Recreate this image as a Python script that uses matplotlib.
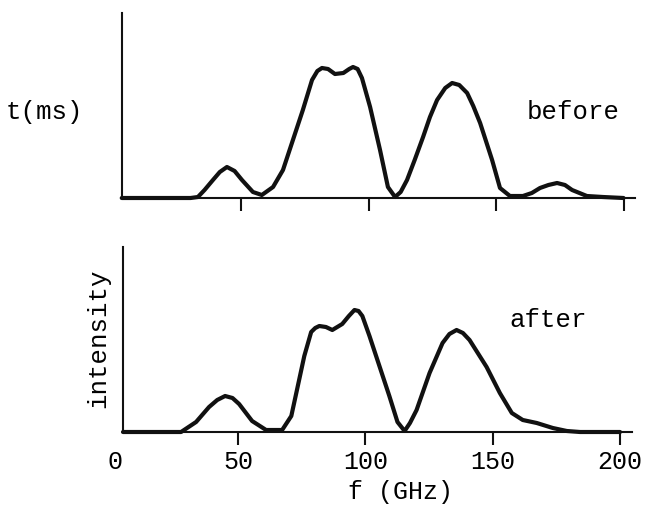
import matplotlib
matplotlib.use("Agg")
import matplotlib.pyplot as plt

# --- data (f in GHz, heights in arbitrary units) ---
before_f = [3, 30, 32.9, 35.5, 38.8, 41.5, 44.3, 47.3, 50.2, 54.5, 58.0, 62.4, 66.3,
            70.2, 74.1, 77.7, 79.8, 81.6, 84.0, 86.7, 90.0, 92.3, 93.8, 95.6, 97.3,
            100.5, 104.4, 107.5, 110.3, 112.5, 115.0, 118.0, 121.3, 124.0, 126.8, 130.0, 132.7,
            135.5, 138.6, 141.0, 143.7, 148.4, 151.5, 155.4, 160.5, 164.0, 167.2, 170.5,
            173.9, 177.0, 179.8, 185.6, 191.9, 200.0]
before_h = [0, 0, 1, 8, 18, 26, 31, 27, 18, 6, 3, 11, 28,
            58, 88, 118, 127, 130, 129, 124, 125, 129, 131, 129, 120,
            91, 48, 11, 1, 6, 18, 38, 61, 81, 98, 110, 115,
            113, 105, 92, 75, 38, 10, 2, 2, 5, 10, 13,
            15, 13, 8, 2, 1, 0]

after_f = [4.8, 27.6, 33.5, 38.6, 41.8, 44.9, 47.8, 50.4, 55.5, 61.0, 67.3, 70.9,
           73.2, 76.0, 78.7, 80.3, 81.9, 84.5, 87.0, 90.9, 93.5, 95.7, 97.3, 98.8,
           101.6, 105.5, 109.4, 112.6, 115.4, 117.5, 120.1, 125.2, 130.3, 133.0, 135.8,
           138.3, 140.9, 147.6, 152.8, 157.5, 161.8, 167.3, 173.6, 179.1, 184.3, 200.0]
after_h = [0, 0, 10, 25, 32, 36, 34, 28, 11, 2, 2, 16,
           43, 76, 100, 104, 106, 105, 102, 108, 116, 122, 121, 116,
           96, 66, 36, 10, 1, 9, 22, 59, 89, 98, 102,
           99, 92, 65, 39, 19, 12, 9, 4, 1, 0, 0]

x_ticks = [50, 100, 150, 200]
x_ticklabels = ["50", "100", "150", "200"]

FONT = "Liberation Mono"
W, H = 651, 515
fig = plt.figure(figsize=(W / 100, H / 100), dpi=100)

def px_axes(x0, x1, ytop, ybot):
    return fig.add_axes([x0 / W, 1 - ybot / H, (x1 - x0) / W, (ybot - ytop) / H])

ax1 = px_axes(122, 635, 13, 198)
ax2 = px_axes(123, 632, 247, 432)

TICK_LEN, TICK_PAD = 9, 4
for ax in (ax1, ax2):
    for s in ("top", "right"):
        ax.spines[s].set_visible(False)
    for s in ("left", "bottom"):
        ax.spines[s].set_linewidth(1.5)
        ax.spines[s].set_color("#111111")
    ax.set_yticks([])
    ax.set_xticks(x_ticks)
    ax.tick_params(axis="x", direction="out", length=TICK_LEN, width=1.5, color="#111111",
                   pad=TICK_PAD, labelsize=18)
    ax.set_ylim(0, 185)

ax1.set_xlim(3.1, 204.5)
ax2.set_xlim(4.8, 204.7)
ax1.set_xticklabels([])
ax2.set_xticklabels(x_ticklabels, fontfamily=FONT)

ax1.plot(before_f, before_h, color="#111111", lw=3, solid_joinstyle="round",
         solid_capstyle="round", clip_on=False)
ax2.plot(after_f, after_h, color="#111111", lw=3, solid_joinstyle="round",
         solid_capstyle="round", clip_on=False)

# "0" label sits left of the axis start, at the same height as the other tick labels
ax2.annotate("0", xy=(1.5, 0), xycoords=("data", "axes fraction"),
             xytext=(0, -(TICK_LEN + TICK_PAD)), textcoords="offset points",
             ha="center", va="top", fontsize=18, fontfamily=FONT, annotation_clip=False)

fig.text(400 / W, 1 - 492 / H, "f (GHz)", ha="center", va="center",
         fontsize=18, fontfamily=FONT)
fig.text(44 / W, 1 - 112 / H, "t(ms)", ha="center", va="center",
         fontsize=18.5, fontfamily=FONT)
fig.text(573 / W, 1 - 112 / H, "before", ha="center", va="center",
         fontsize=18.5, fontfamily=FONT)
fig.text(548 / W, 1 - 320 / H, "after", ha="center", va="center",
         fontsize=18.5, fontfamily=FONT)
fig.text(98 / W, 1 - 338 / H, "intensity", ha="center", va="center",
         rotation=90, fontsize=18.5, fontfamily=FONT)

fig.savefig("out.png", dpi=100, facecolor="white")
